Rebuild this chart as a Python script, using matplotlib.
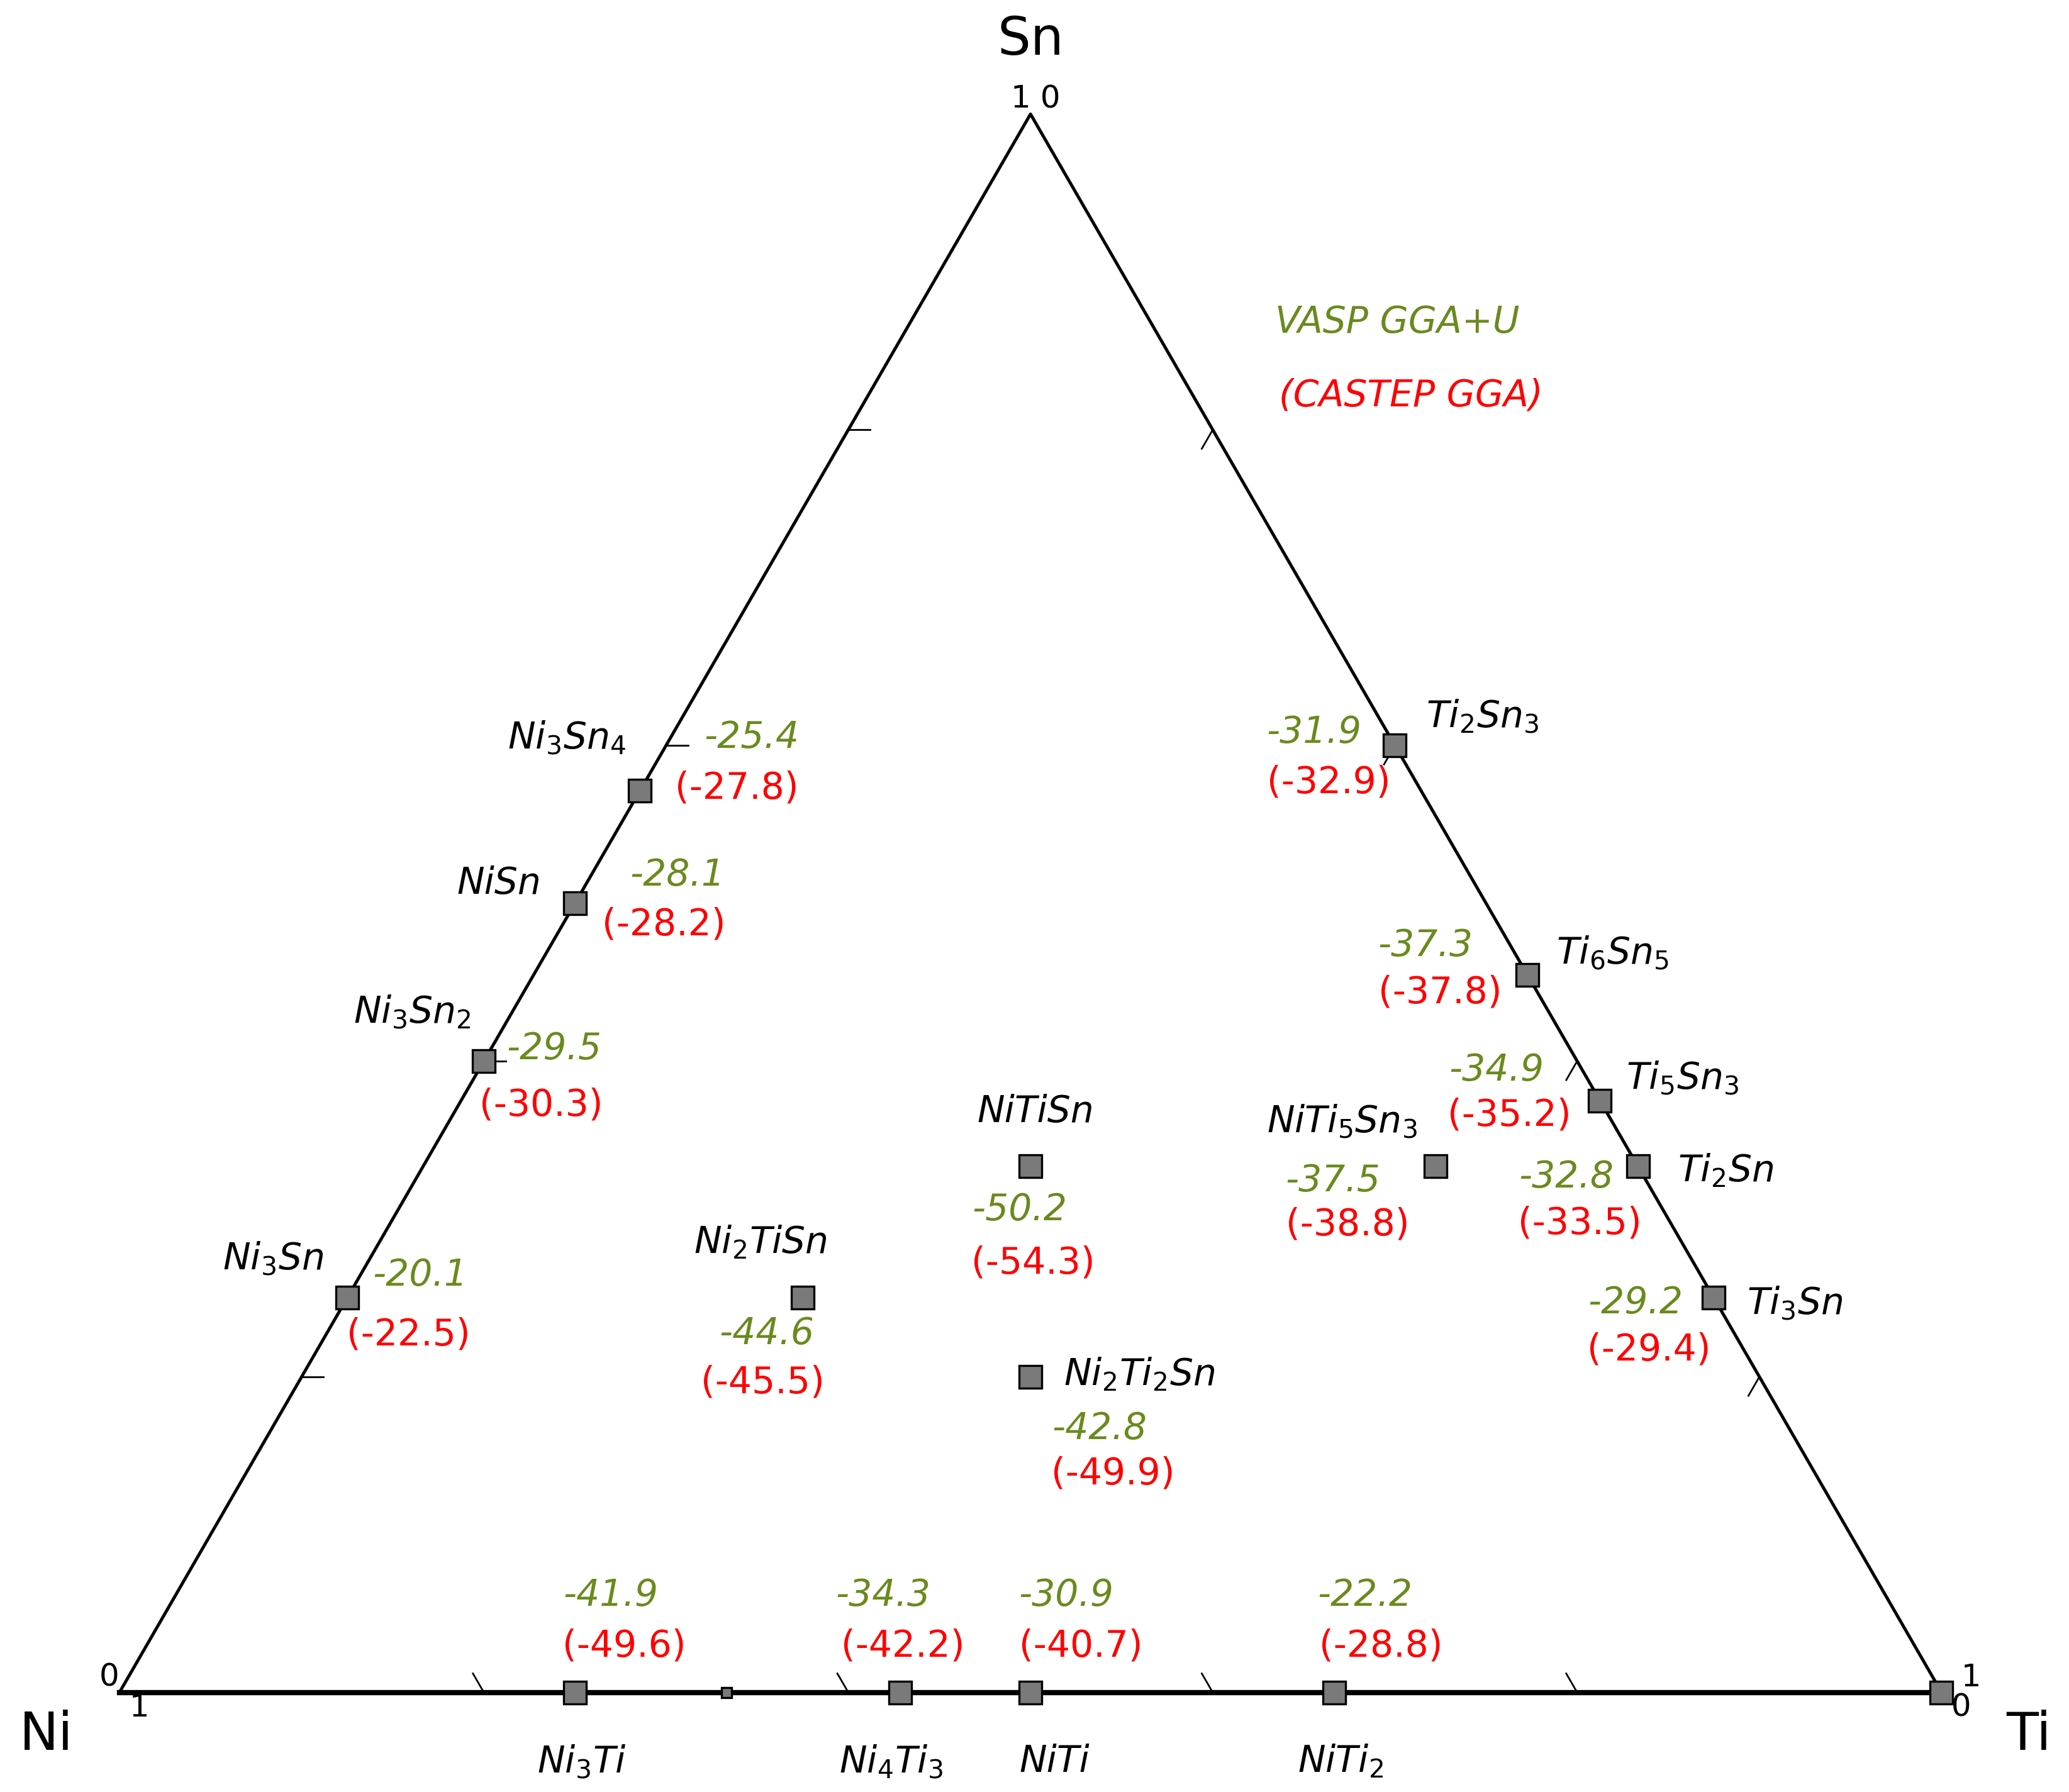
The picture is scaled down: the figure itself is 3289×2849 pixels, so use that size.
import numpy as np
import matplotlib
matplotlib.use("Agg")
import matplotlib.pyplot as plt

plt.rcParams['font.family'] = ['DejaVu Sans']
plt.rcParams['mathtext.fontset'] = 'dejavusans'
plt.rcParams['mathtext.default'] = 'it'

GREEN = '#6a8a1e'
RED = '#ff0000'

# compositions (Ti fraction, Sn fraction); Ni = rest
names = ["Ni$_3$Sn$_4$", "NiSn", "Ni$_3$Sn$_2$", "Ni$_3$Sn",
         "Ti$_2$Sn$_3$", "Ti$_6$Sn$_5$", "Ti$_5$Sn$_3$", "Ti$_2$Sn", "Ti$_3$Sn",
         "NiTiSn", "Ni$_2$TiSn", "Ni$_2$Ti$_2$Sn", "NiTi$_5$Sn$_3$",
         "Ni$_3$Ti", "Ni$_4$Ti$_3$", "NiTi", "NiTi$_2$"]
ti = [0, 0, 0, 0, 0.4, 6/11, 5/8, 2/3, 3/4, 1/3, 1/4, 2/5, 5/9, 1/4, 3/7, 1/2, 2/3]
sn = [4/7, 1/2, 2/5, 1/4, 3/5, 5/11, 3/8, 1/3, 1/4, 1/3, 1/4, 1/5, 1/3, 0, 0, 0, 0]
vasp = ["-25.4", "-28.1", "-29.5", "-20.1", "-31.9", "-37.3", "-34.9", "-32.8", "-29.2",
        "-50.2", "-44.6", "-42.8", "-37.5", "-41.9", "-34.3", "-30.9", "-22.2"]
castep = ["(-27.8)", "(-28.2)", "(-30.3)", "(-22.5)", "(-32.9)", "(-37.8)", "(-35.2)", "(-33.5)",
          "(-29.4)", "(-54.3)", "(-45.5)", "(-49.9)", "(-38.8)", "(-49.6)", "(-42.2)", "(-40.7)", "(-28.8)"]
# extra unlabeled markers (Ti, Sn)
extra_ti = [1/3, 1.0]
extra_sn = [0.0, 0.0]
extra_size = [6, 13]

# label offsets in reference display px (name, vasp, castep)
name_off = [(-55, -40), (-57, -15), (-54, -37), (-56, -30), (66, -22), (64, -17), (62, -17), (66, 3), (61, 4),
            (4, -41), (-32, -42), (82, -2), (-70, -34), (5, 52), (-7, 52), (18, 52), (5, 52)]
vasp_off = [(84, -40), (77, -21), (53, -9), (55, -17), (-61, -10), (-77, -22), (-78, -23), (-54, 8), (-59, 4),
            (-8, 33), (-27, 27), (52, 39), (-77, 11), (27, -73), (-13, -73), (27, -73), (23, -73)]
cast_off = [(73, -2), (67, 16), (43, 33), (46, 28), (-50, 28), (-66, 13), (-68, 11), (-44, 43), (-49, 39),
            (2, 73), (-30, 64), (62, 73), (-66, 44), (37, -35), (2, -35), (38, -35), (35, -35)]

H3 = np.sqrt(3) / 2
def xy(t, s):
    t = np.asarray(t, float); s = np.asarray(s, float)
    return t + s / 2, s * H3

fig = plt.figure(figsize=(3289/200, 2849/200), dpi=200)
ax = fig.add_axes([0, 0, 1, 1])
ax.set_xlim(-90/1373, (1559-90)/1373)
ax.set_ylim(-75/1373, 1275/1373)
ax.axis('off')

# triangle
tx, ty = xy([0, 1, 0, 0], [0, 0, 1, 0])
ax.plot(tx[1:], ty[1:], color='black', lw=1.8, zorder=1)
ax.plot(tx[:2], ty[:2], color='black', lw=3, zorder=1)

# ticks
L = 0.012
for f in [0.2, 0.4, 0.6, 0.8]:
    # bottom edge
    x0, y0 = xy(f, 0)
    ax.plot([x0, x0 - L/2], [y0, y0 + L*H3], color='black', lw=1)
    # left edge (Ti=0)
    x0, y0 = xy(0, f)
    ax.plot([x0, x0 + L], [y0, y0], color='black', lw=1)
    # right edge (Ni=0)
    x0, y0 = xy(1 - f, f)
    ax.plot([x0, x0 - L/2], [y0, y0 - L*H3], color='black', lw=1)

fs_tick = 18
ax.text(*xy(0, 1), "1", fontsize=fs_tick, ha='right', va='bottom', transform=ax.transData)
ax.text(*xy(0, 1), " 0", fontsize=fs_tick, ha='left', va='bottom')
ax.text(*xy(0, 0), "0", fontsize=fs_tick, ha='right', va='bottom')
ax.text(*xy(0, 0), " 1", fontsize=fs_tick, ha='left', va='top')
ax.text(*xy(1, 0), "  1", fontsize=fs_tick, ha='left', va='bottom')
ax.text(*xy(1, 0), " 0", fontsize=fs_tick, ha='left', va='top')

bx, by = xy(0, 1)
ax.annotate("Sn", (bx, by), xytext=(0, 28), textcoords='offset points', fontsize=30, ha='center', va='bottom')
bx, by = xy(0, 0)
ax.annotate("Ni", (bx, by), xytext=(-42, -10), textcoords='offset points', fontsize=30, ha='center', va='top')
bx, by = xy(1, 0)
ax.annotate("Ti", (bx, by), xytext=(50, -10), textcoords='offset points', fontsize=30, ha='center', va='top')

# markers
px, py = xy(ti, sn)
ax.plot(px, py, 's', ms=13, mfc='#7a7a7a', mec='black', mew=1.2, ls='none', zorder=3)
ex, ey = xy(extra_ti, extra_sn)
for x, y, s in zip(ex, ey, extra_size):
    ax.plot(x, y, 's', ms=s, mfc='#7a7a7a', mec='black', mew=1.2, zorder=3)

K = 0.76  # display px -> points
fs = 21
for i in range(len(names)):
    for txt, off, col in [(names[i], name_off[i], 'black'), (vasp[i], vasp_off[i], GREEN), (castep[i], cast_off[i], RED)]:
        ax.annotate(txt, (px[i], py[i]), xytext=(off[0]*K, -off[1]*K), textcoords='offset points',
                    ha='center', va='center', fontsize=fs, color=col,
                    fontstyle='italic' if col != RED else 'normal')

ax.text(1053, 243, "VASP GGA+U", transform=None, fontsize=1)  # placeholder removed below
ax.texts[-1].remove()
fig.text(1053/1559, 1 - 243/1350, "VASP GGA+U", fontsize=fs, color=GREEN, style='italic', ha='center', va='center')
fig.text(1063/1559, 1 - 298/1350, "(CASTEP GGA)", fontsize=fs, color=RED, style='italic', ha='center', va='center')

fig.savefig("out.png", dpi=200)
